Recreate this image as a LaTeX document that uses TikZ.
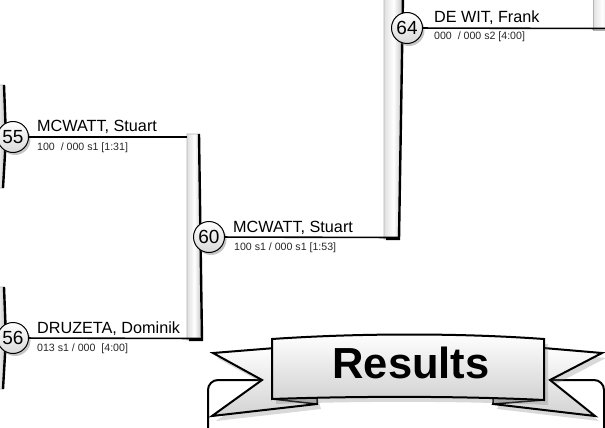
\documentclass[tikz,border=0pt]{standalone}
\usepackage{fontspec}
\setmainfont{Liberation Sans}
\usetikzlibrary{positioning, shadows, calc}

\begin{document}
\begin{tikzpicture}[
    x=1pt, y=-1pt,
    seed/.style={circle, draw=black, line width=1pt, minimum size=31pt, inner sep=0pt, top color=white, bottom color=gray!30, drop shadow={shadow xshift=2pt, shadow yshift=-2.5pt, opacity=0.45}, font=\fontsize{19}{19}\selectfont},
    player/.style={anchor=base west, inner sep=0pt, font=\fontsize{16.2}{17}\selectfont},
    score/.style={anchor=base west, inner sep=0pt, text=black!85, font=\fontsize{10.6}{11}\selectfont},
    link/.style={draw=black, line width=1.6pt},
    barfill/.style={left color=gray!25, right color=gray!50, middle color=white, draw=gray!60, line width=0.6pt},
    baredge/.style={draw=black, line width=2.4pt},
    ribbon/.style={draw=black, line width=2pt, line join=miter, top color=white, bottom color=gray!35, drop shadow={shadow xshift=4pt, shadow yshift=-5pt, opacity=0.3}},
]

\clip (0,0) rectangle (605,428);

% Bracket bars
\path[barfill] (-14,85) -- (4,85) -- (6,137) -- (3,188) -- (-14,188) -- cycle;
\path[barfill] (-14,287) -- (4,287) -- (6,338) -- (3,389) -- (-14,389) -- cycle;
\path[barfill] (187,134) -- (199,134) -- (202,340) -- (187,340) -- cycle;
\path[barfill] (384,-5) -- (403,-5) -- (399,239) -- (384,239) -- cycle;
\path[barfill] (593,-5) -- (612,-5) -- (612,30) -- (593,30) -- cycle;

\draw[baredge] (4,85) -- (6,137) -- (3,188);
\draw[baredge] (4,287) -- (6,338) -- (3,389);
\draw[baredge] (199,134) -- (202,340) -- (189,340);
\draw[baredge] (403,-5) -- (399,239) -- (386,239);

\coordinate (top60) at (187,137);
\coordinate (bot60) at (202,338.5);
\coordinate (bot64) at (399,237.5);
\coordinate (bot65) at (612,28.5);

% Seeds
\node[seed] (m55) at (13,137) {55};
\node[seed] (m56) at (13,338) {56};
\node[seed] (m60) at (209,237) {60};
\node[seed] (m64) at (407,28) {64};

% Links
\draw[link] (m55) -- (top60);
\draw[link] (m56) -- (bot60);
\draw[link] (m60) -- (bot64);
\draw[link] (m64) -- (bot65);

% Players
\node[player] (n55) at (37,131) {MCWATT, Stuart};
\node[score] (s55) at (37,150) {100\ \ / 000 s1 [1:31]};
\node[player] (n56) at (37,333) {DRUZETA, Dominik};
\node[score] (s56) at (37,351) {013 s1 / 000\ \ [4:00]};
\node[player] (n60) at (233,232) {MCWATT, Stuart};
\node[score] (s60) at (234,250) {100 s1 / 000 s1 [1:53]};
\node[player] (n64) at (434,23) {DE WIT, Frank};
\node[score] (s64) at (434,40) {000\ \ / 000 s2 [4:00]};

% Results frame
\draw[line width=2pt, rounded corners=10pt] (208,440) -- (208,380) -- (604,380) -- (604,440);

% Results banner
\path[ribbon] (213,353) -- (300,346) -- (317,404) -- (212,416) -- (262,380) -- cycle;
\path[ribbon] (602,353) -- (520,346) -- (493,404) -- (595,416) -- (550,380) -- cycle;
\path[draw=black, line width=1.5pt, fill=gray!55] (272,399) -- (317,404) -- (317,397) -- cycle;
\path[draw=black, line width=1.5pt, fill=gray!55] (544,400) -- (493,404) -- (493,397) -- cycle;
\path[ribbon] (272,339) .. controls (360,333) and (460,333) .. (544,339) -- (544,400) .. controls (460,396) and (360,396) .. (272,399) -- cycle;
\node[anchor=base, inner sep=0pt, font=\bfseries\fontsize{43.5}{44}\selectfont] (results) at (411,378) {Results};

\end{tikzpicture}
\end{document}
